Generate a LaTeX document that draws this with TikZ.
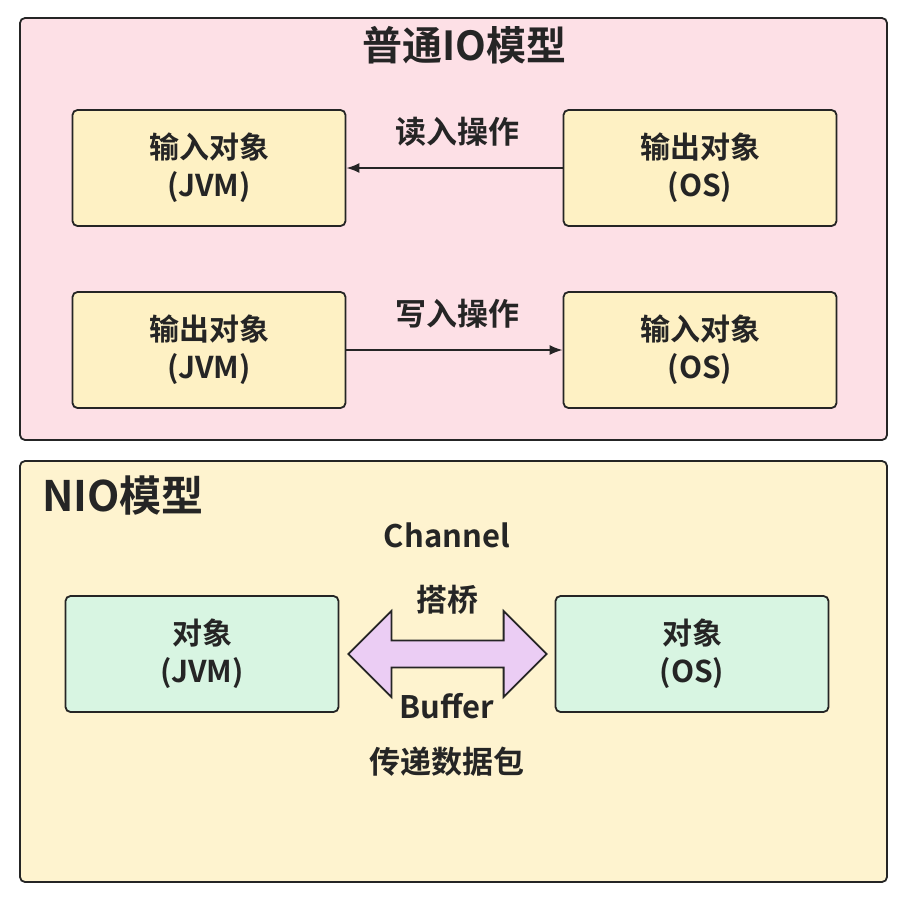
\documentclass[tikz,border=0pt]{standalone}
\usepackage{fontspec}
\setmainfont{Noto Sans CJK SC}[BoldFont={* Bold}]
\newfontfamily\cjkb{Noto Sans CJK SC Bold}
\usetikzlibrary{positioning,calc,arrows.meta}
\definecolor{pinkbg}{HTML}{FDE0E6}
\definecolor{yellowbg}{HTML}{FEF3CF}
\definecolor{boxyellow}{HTML}{FEF1C4}
\definecolor{boxgreen}{HTML}{D8F5E2}
\definecolor{lav}{HTML}{EBCDF4}
\definecolor{ink}{HTML}{252525}
\tikzset{
  frame/.style={draw=ink, line width=1.8pt, rounded corners=5pt},
  objbox/.style={draw=ink, line width=1.8pt, rounded corners=5pt, fill=boxyellow,
    minimum width=273pt, minimum height=116pt, inner sep=0pt, align=center,
    font=\cjkb\fontsize{30}{38}\selectfont, text=ink},
  nbox/.style={objbox, fill=boxgreen},
  lbl/.style={font=\cjkb\fontsize{31}{37}\selectfont, text=ink, inner sep=0pt},
  ttl/.style={font=\cjkb\fontsize{40}{44}\selectfont, text=ink, inner sep=0pt},
  conn/.style={draw=ink, line width=1.8pt, -{Latex[length=13pt,width=10pt]}},
}
\begin{document}
\begin{tikzpicture}[x=1pt,y=-1pt]
\useasboundingbox (0,0) rectangle (906,898);
\fill[white] (0,0) rectangle (906,898);
% top frame
\path[frame, fill=pinkbg] (20,18) rectangle (887,440);
\node[ttl] (t1) at (464,45) {普通IO模型};
\node[objbox] (inj) at (209,168) {输入对象\\(JVM)};
\node[objbox] (outos) at (700,168) {输出对象\\(OS)};
\node[objbox] (outj) at (209,350) {输出对象\\(JVM)};
\node[objbox] (inos) at (700,350) {输入对象\\(OS)};
\draw[conn] (outos.west) -- (inj.east);
\draw[conn] (outj.east) -- (inos.west);
\node[lbl] (rd) at (457,132) {读入操作};
\node[lbl] (wr) at (457,314) {写入操作};
% bottom frame
\path[frame, fill=yellowbg] (20,461) rectangle (887,882);
\node[ttl, anchor=west, font=\cjkb\fontsize{42}{44}\selectfont] (t2) at (42,496) {NIO模型};
\node[lbl] (ch) at (447,535) {Channel};
\node[nbox] (oj) at (202,654) {对象\\(JVM)};
\node[nbox] (oo) at (692,654) {对象\\(OS)};
\coordinate (lt) at ([xshift=9pt]oj.east);
\coordinate (rt) at ([xshift=-8pt]oo.west);
\draw[ink, line width=1.8pt, fill=lav, line join=miter]
  (lt) -- ++(43,-43) -- ++(0,29.5) -- ($(rt)+(-43,-13.5)$) -- ++(0,-29.5) -- (rt)
  -- ++(-43,43) -- ++(0,-29.5) -- ($(lt)+(43,13.5)$) -- ++(0,29.5) -- cycle;
\node[lbl] (bq) at (447,600) {搭桥};
\node[lbl] (bf) at (447,706) {Buffer};
\node[lbl] (cd) at (447,762) {传递数据包};
\end{tikzpicture}
\end{document}
